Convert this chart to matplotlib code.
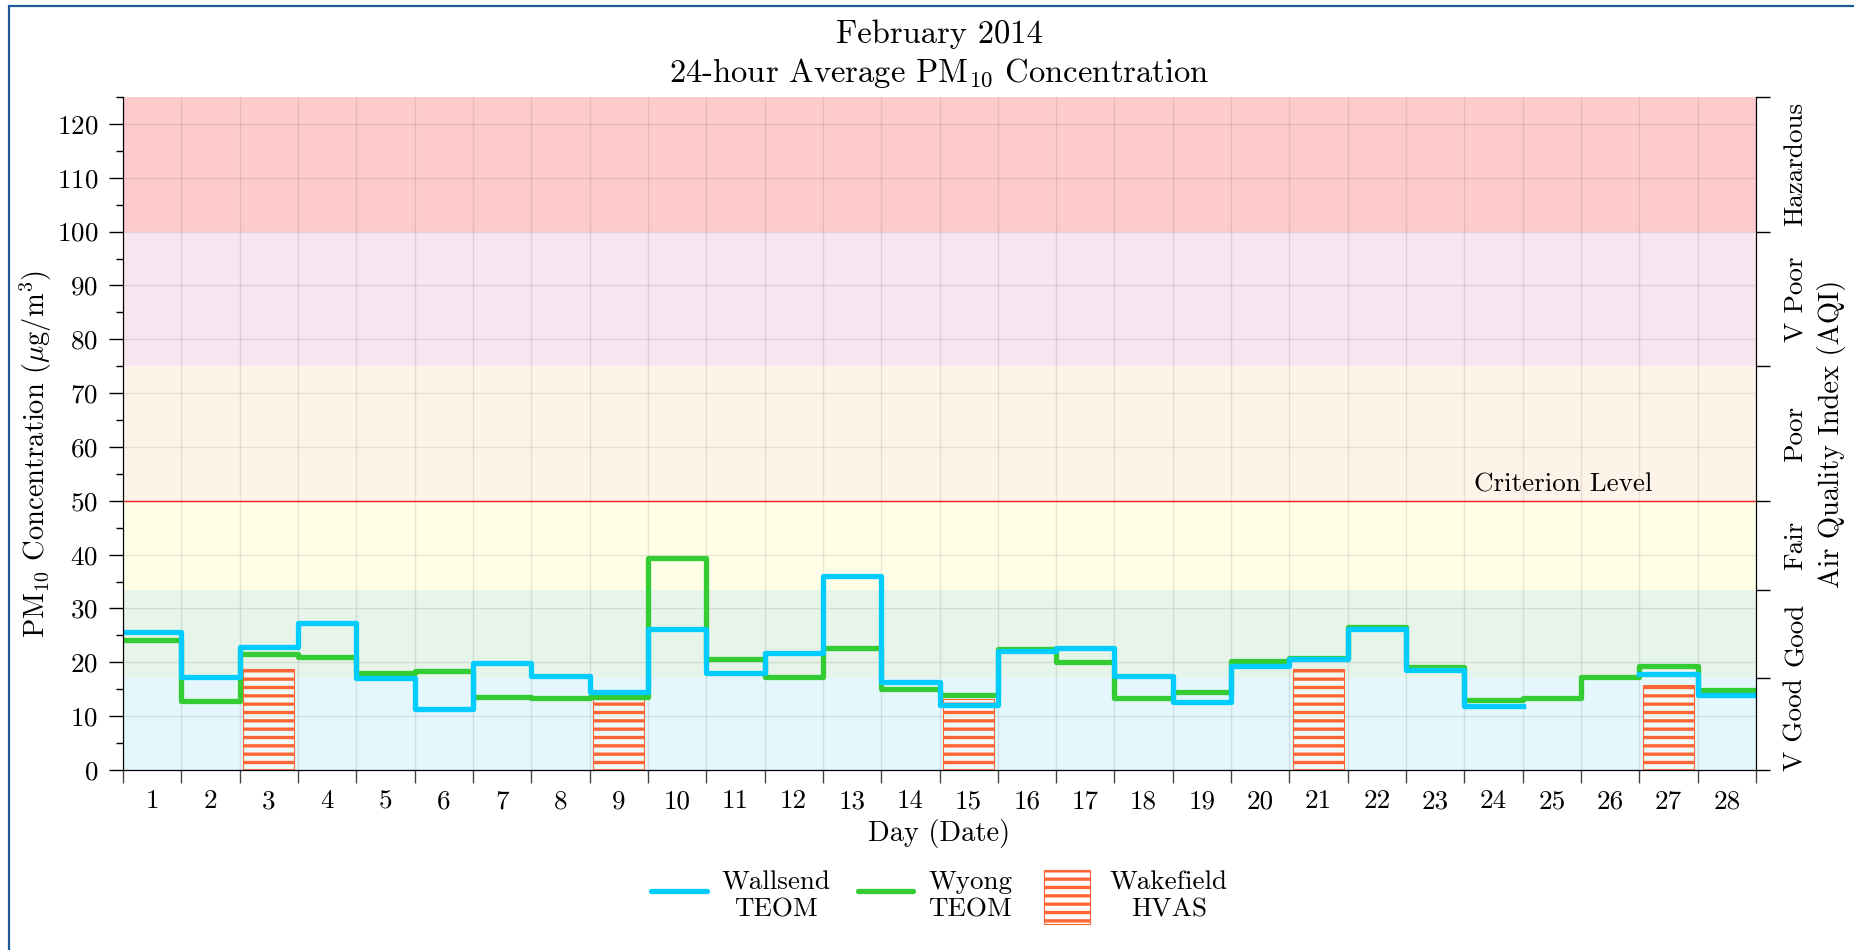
import numpy as np
import matplotlib
matplotlib.use('Agg')
import matplotlib.pyplot as plt
from matplotlib.lines import Line2D
from matplotlib.patches import Rectangle
from matplotlib.legend_handler import HandlerPatch

# 字体与样式
plt.rcParams['font.family'] = ['cmr10', 'DejaVu Serif']
plt.rcParams['mathtext.fontset'] = 'cm'
plt.rcParams['axes.formatter.use_mathtext'] = True
plt.rcParams['hatch.linewidth'] = 2.4

# 数据
days = np.arange(1, 29)
wallsend = [25.7, 17.3, 22.9, 27.3, 17.0, 11.4, 19.8, 17.4, 14.4, 26.1,
            18.1, 21.8, 36.1, 16.4, 12.0, 22.1, 22.6, 17.5, 12.6, 19.3,
            20.6, 26.1, 18.6, 11.8, np.nan, np.nan, 17.8, 13.9]
wyong = [24.2, 12.8, 21.5, 21.0, 18.0, 18.4, 13.6, 13.3, 13.6, 39.3,
         20.6, 17.2, 22.7, 15.0, 14.0, 22.4, 20.1, 13.3, 14.4, 20.3,
         20.8, 26.6, 19.2, 13.0, 13.4, 17.3, 19.3, 14.9]
wakefield_days = [3, 9, 15, 21, 27]
wakefield = [18.8, 13.2, 13.2, 18.7, 15.8]

# AQI 分级
aqi_edges = [0, 17, 33.4, 50, 75, 100, 125]
aqi_names = ['V Good', 'Good', 'Fair', 'Poor', 'V Poor', 'Hazardous']
aqi_colors = ['#E3F7FC', '#E6F4E9', '#FFFEE6', '#FEF3E8', '#F9E5EF', '#FDCBCB']
criterion = 50

fig = plt.figure(figsize=(18.54, 9.5), dpi=100)
ax = fig.add_axes([123 / 1854, 1 - 770 / 950, 1633 / 1854, 673 / 950])

for lo, hi, c in zip(aqi_edges[:-1], aqi_edges[1:], aqi_colors):
    ax.axhspan(lo, hi, color=c, zorder=0.2, lw=0)

ax.axhline(criterion, color='#FF2020', lw=1.0, zorder=1.2)
ax.text(25.2, criterion + 0.8, 'Criterion Level', ha='center', va='bottom',
        fontsize=19.5, zorder=3)

edges = np.append(days - 0.5, days[-1] + 0.5)

bar_style = dict(facecolor=(1, 1, 1, 0.45), edgecolor='#FF6633', hatch='--', lw=0.8)
ax.bar(wakefield_days, wakefield, width=0.88, zorder=1, **bar_style)
ax.step(edges, np.append(wyong, wyong[-1]), where='post', color='#33CC33',
        lw=3.8, zorder=2)
ax.step(edges, np.append(wallsend, wallsend[-1]), where='post', color='#00CCFF',
        lw=3.8, zorder=2.1)

ax.set_xlim(edges[0], edges[-1])
ax.set_ylim(aqi_edges[0], aqi_edges[-1])

# 坐标轴刻度
ax.set_xticks(edges)
ax.set_xticklabels([])
ax.set_xticks(days, minor=True)
ax.set_xticklabels([str(d) for d in days], minor=True)
ax.tick_params(axis='x', which='major', direction='out', length=9, width=1,
               color='#444444')
ax.tick_params(axis='x', which='minor', length=0, pad=14, labelsize=19.5)
ax.set_yticks(np.arange(0, 121, 10))
ax.set_yticks(np.arange(5, 126, 10), minor=True)
ax.tick_params(axis='y', which='major', direction='out', length=10, width=1,
               pad=8, labelsize=19.5)
ax.tick_params(axis='y', which='minor', direction='out', length=5, width=1)

ax.grid(True, which='major', color='black', alpha=0.09, lw=1)
ax.set_axisbelow(True)
ax.spines['top'].set_visible(False)

ax.set_xlabel('Day (Date)', fontsize=20.5, labelpad=4)
ax.set_ylabel(r'PM$_{10}$ Concentration ($\mu$g/m$^{3}$)', fontsize=20.5)
ax.yaxis.set_label_coords(-0.0425, 0.47)

# 右侧 AQI 轴
ax2 = ax.twinx()
ax2.set_ylim(aqi_edges[0], aqi_edges[-1])
ax2.set_yticks(aqi_edges)
ax2.set_yticklabels([])
centers = [(lo + hi) / 2 for lo, hi in zip(aqi_edges[:-1], aqi_edges[1:])]
ax2.set_yticks(centers, minor=True)
ax2.set_yticklabels(aqi_names, minor=True, rotation=90, va='center')
ax2.tick_params(axis='y', which='major', direction='out', length=10, width=1)
ax2.tick_params(axis='y', which='minor', length=0, pad=20, labelsize=19.5)
ax2.spines['top'].set_visible(False)
ax2.set_ylabel('Air Quality Index (AQI)', fontsize=20.5)
ax2.yaxis.set_label_coords(1.0375, 0.5)

# 标题
cx = (123 + 1756) / 2 / 1854
fig.text(cx, 1 - 43 / 950, 'February 2014', ha='center', va='baseline', fontsize=23.5)
fig.text(cx, 1 - 82 / 950, '24-hour Average PM$_{10}$ Concentration',
         ha='center', va='baseline', fontsize=23.5)


# 图例中的柱状块尺寸
def tall_rect(legend, orig_handle, xdescent, ydescent, width, height, fontsize):
    w, h = 33, 39
    return Rectangle((-xdescent + (width - w) / 2, -ydescent + (height - h) / 2), w, h)


bar_proxy = Rectangle((0, 0), 1, 1, **bar_style)
handles = [Line2D([], [], color='#00CCFF', lw=3.8, solid_capstyle='round'),
           Line2D([], [], color='#33CC33', lw=3.8, solid_capstyle='round'),
           bar_proxy]
labels = ['Wallsend\nTEOM', 'Wyong\nTEOM', 'Wakefield\nHVAS']
leg = fig.legend(handles, labels, loc='center', bbox_to_anchor=(cx, 1 - 896 / 950),
                 ncol=3, frameon=False, fontsize=19.5, handlelength=2.05,
                 handleheight=2.0, handletextpad=0.55, columnspacing=1.0,
                 handler_map={bar_proxy: HandlerPatch(patch_func=tall_rect)})
for t in leg.get_texts():
    t.set_multialignment('center')

# 外框
fig.patches.append(Rectangle((9 / 1854, -0.1), 1.2, 1.1 - 6 / 950,
                             transform=fig.transFigure, fill=False,
                             edgecolor='#1F5A96', lw=1.6))

fig.savefig('out.png', dpi=100)
